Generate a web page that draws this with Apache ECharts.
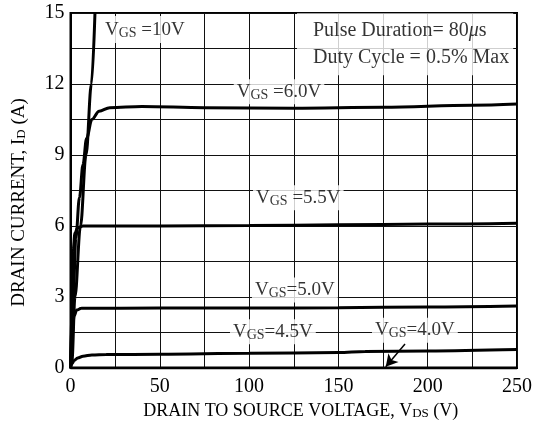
<!DOCTYPE html>
<html>
<head>
<meta charset="utf-8">
<script src="https://cdn.jsdelivr.net/npm/echarts@6/dist/echarts.min.js"></script>
<style>html,body{margin:0;padding:0;background:#fff}#c{width:540px;height:438px}</style>
</head>
<body>
<div id="c"></div>
<script>
// Data (VDS in V, ID in A)
var vgs10 = [[0,0],[0.8,0.3],[2.5,3],[5.6,6],[8.7,9],[11.7,12],[13.7,15]];
var vgs60 = [[0,0],[1.5,3],[3,5.5],[5,7.2],[7,8.6],[9,9.7],[12,10.5],[16,10.85],[22,11.0],[40,11.05],[75,11.0],[125,10.98],[175,11.02],[225,11.1],[250,11.15]];
var vgs55 = [[0,0],[1,3],[1.5,5],[2.5,5.7],[4,5.93],[7,6.0],[50,6.0],[100,6.02],[150,6.05],[200,6.08],[250,6.12]];
var vgs50 = [[0,0],[1,1.5],[2,2.2],[3.5,2.45],[6,2.52],[50,2.53],[100,2.53],[150,2.55],[200,2.58],[250,2.62]];
var vgs45 = [[0,0],[1,0.2],[2,0.32],[4,0.42],[7,0.5],[12,0.55],[20,0.57],[50,0.58],[100,0.62],[150,0.65],[165,0.7],[200,0.72],[250,0.78]];
var vgs40 = [[0,0],[50,0],[100,0],[150,0],[200,0],[250,0]];
var xTicks = [0,50,100,150,200,250];
var yTicks = [0,3,6,9,12,15];

var FONT = 'Liberation Serif';
var rich = {
  v: {fontFamily: FONT, fontSize: 19, color: '#000'},
  s: {fontFamily: FONT, fontSize: 14, color: '#000', padding: [7,0,0,0]},
  b: {fontFamily: FONT, fontSize: 19, color: '#000'},
  bs: {fontFamily: FONT, fontSize: 14, color: '#000', padding: [7,0,0,0]}
};
function lbl(pt, text, pad){
  return {value: pt, label: {show: true, position: 'inside', align: 'left', verticalAlign: 'middle',
    formatter: text, rich: rich, backgroundColor: '#fff', padding: pad || [2,3,2,3]}};
}
var annotations = [
  lbl([17.6,14.3], '{b|V}{bs|GS}{b| =10V}', [3,8,3,3]),
  lbl([91.4,11.67], '{v|V}{s|GS}{v| =6.0V}'),
  lbl([102.2,7.19], '{v|V}{s|GS}{v| =5.5V}'),
  lbl([101.6,3.3], '{v|V}{s|GS}{v|=5.0V}'),
  lbl([89.3,1.53], '{v|V}{s|GS}{v|=4.5V}'),
  lbl([168.8,1.6], '{v|V}{s|GS}{v|=4.0V}')
];
var pulse = [{value: [126.8,13.68], label: {show: true, position: 'inside', align: 'left', verticalAlign: 'middle',
  formatter: 'Pulse Duration= 80{m|μ}s\nDuty Cycle = 0.5% Max',
  fontFamily: FONT, fontSize: 20, lineHeight: 27, color: '#000',
  rich: {m: {fontFamily: FONT, fontSize: 20, fontStyle: 'italic', color: '#000', lineHeight: 27}},
  backgroundColor: '#fff', padding: [4,4,4,16]}}];

function curve(d){
  return {type: 'line', data: d, showSymbol: false, smooth: 0.35, smoothMonotone: 'x',
    lineStyle: {color: '#000', width: 3}, clip: true, z: 3, silent: true};
}

var chart = echarts.init(document.getElementById('c'));
chart.setOption({
  animation: false,
  grid: {left: 70.5, right: 23, top: 13, bottom: 70, show: true, borderColor: '#000', borderWidth: 2},
  xAxis: {type: 'value', min: 0, max: 250, interval: 50,
    name: '{t|DRAIN TO SOURCE VOLTAGE, V}{ts|DS}{t| (V)}', nameLocation: 'middle', nameGap: 27,
    nameTextStyle: {padding: [0,0,0,14], rich: {t: {fontFamily: FONT, fontSize: 18, color: '#000'}, ts: {fontFamily: FONT, fontSize: 13, color: '#000', padding: [6,0,0,0]}}},
    axisLine: {lineStyle: {color: '#000', width: 2}}, axisTick: {show: false},
    axisLabel: {fontFamily: FONT, fontSize: 20, color: '#000', margin: 9,
      formatter: function(v){ return xTicks.indexOf(v) >= 0 ? String(v) : ''; }},
    splitLine: {show: true, lineStyle: {color: '#111', width: 1}},
    minorTick: {show: false, splitNumber: 2},
    minorSplitLine: {show: true, lineStyle: {color: '#111', width: 1}}
  },
  yAxis: {type: 'value', min: 0, max: 15, interval: 3,
    name: '{t|DRAIN CURRENT, I}{ts|D}{t| (A)}', nameLocation: 'middle', nameGap: 42,
    nameTextStyle: {padding: [0,24,0,0], rich: {t: {fontFamily: FONT, fontSize: 19, color: '#000'}, ts: {fontFamily: FONT, fontSize: 13, color: '#000', padding: [6,0,0,0]}}},
    axisLine: {lineStyle: {color: '#000', width: 2}}, axisTick: {show: false},
    axisLabel: {fontFamily: FONT, fontSize: 20, color: '#000', margin: 6,
      formatter: function(v){ return yTicks.indexOf(v) >= 0 ? String(v) : ''; }},
    splitLine: {show: true, lineStyle: {color: '#111', width: 1}},
    minorTick: {show: false, splitNumber: 2},
    minorSplitLine: {show: true, lineStyle: {color: '#111', width: 1}}
  },
  series: [
    curve(vgs10), curve(vgs60), curve(vgs55), curve(vgs50), curve(vgs45), curve(vgs40),
    {type: 'scatter', data: annotations, symbolSize: 0, z: 2, silent: true},
    {type: 'scatter', data: pulse, symbolSize: 0, z: 2, silent: true},
    {type: 'line', data: [], z: 4, silent: true,
      markLine: {silent: true, symbol: ['none', 'arrow'], symbolSize: [10, 12], animation: false,
        lineStyle: {color: '#000', width: 1.5, type: 'solid'}, label: {show: false},
        data: [[{coord: [187.3, 1.01]}, {coord: [176.5, 0.05]}]]}}
  ]
});
</script>
</body>
</html>
